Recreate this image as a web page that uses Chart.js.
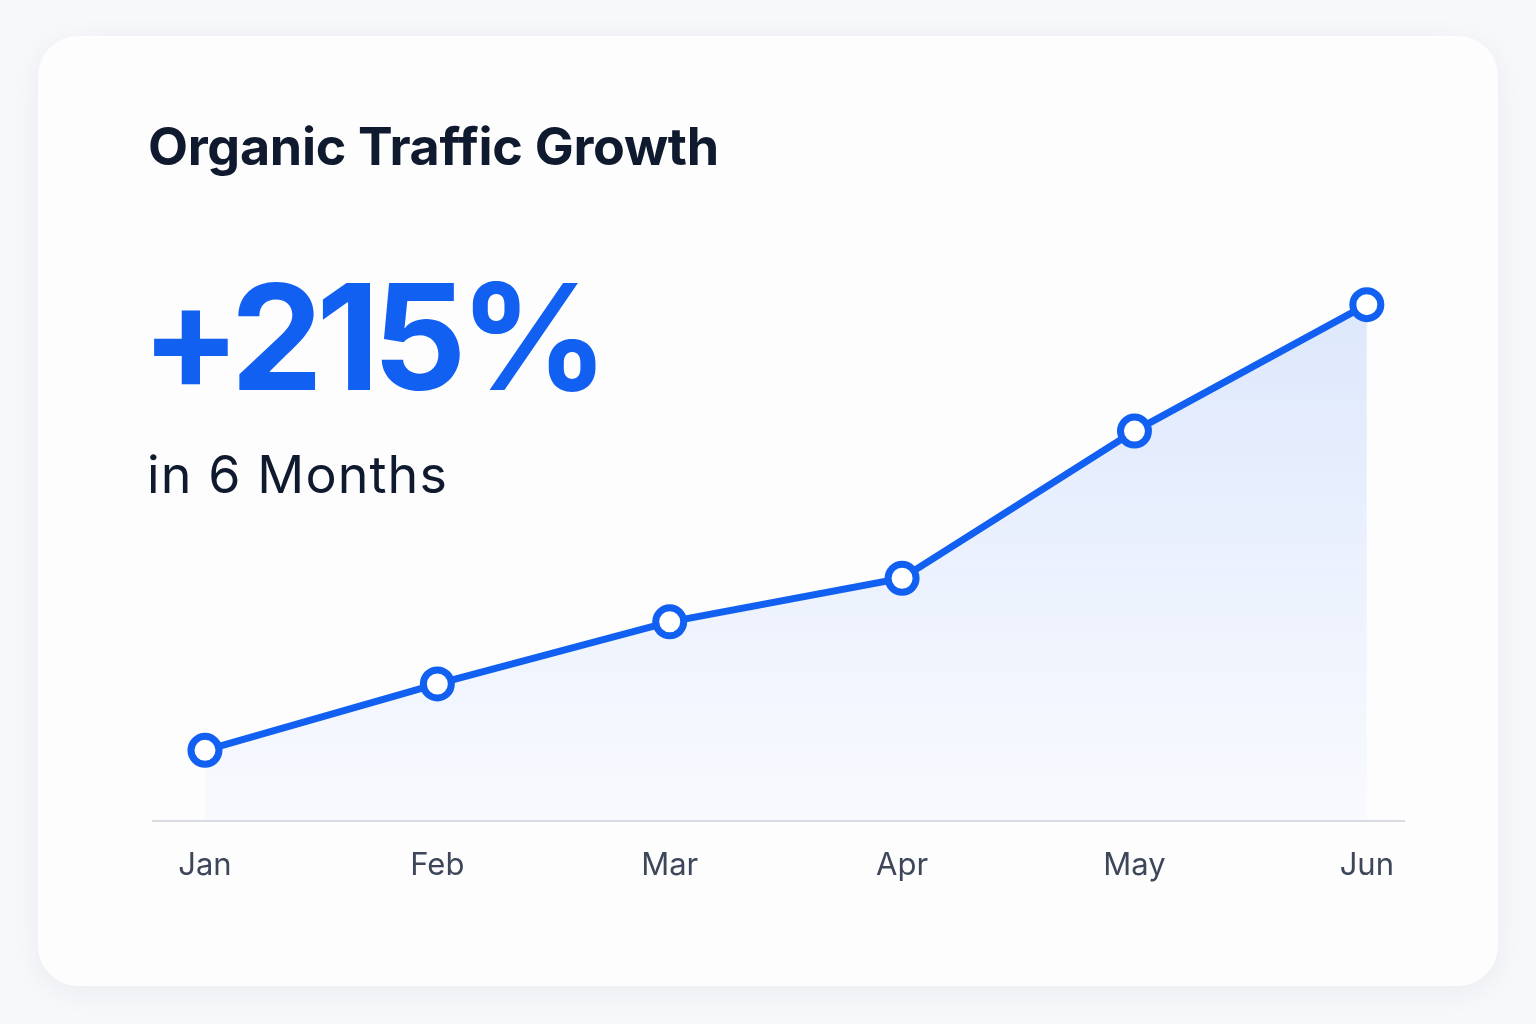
<!DOCTYPE html>
<html>
<head>
<meta charset="utf-8">
<script src="https://cdn.jsdelivr.net/npm/chart.js@4.4.1/dist/chart.umd.min.js"></script>
<style>
  html, body { margin: 0; padding: 0; }
  body {
    width: 1536px; height: 1024px;
    background: #f7f8fa;
    font-family: Inter, "Noto Sans", sans-serif;
    position: relative; overflow: hidden;
  }
  .card {
    position: absolute; left: 38px; top: 36px;
    width: 1460px; height: 950px;
    background: #fdfdfe;
    border-radius: 40px;
    box-shadow: 0 6px 30px rgba(30, 40, 70, 0.06);
  }
  .title {
    position: absolute; left: 148px; top: 121px;
    font-size: 52px; line-height: 1; font-weight: 700;
    color: #0f1a2e; letter-spacing: -0.3px;
  }
  .big {
    position: absolute; left: 141px; top: 263px;
    font-size: 147px; line-height: 1; font-weight: 700;
    color: #1160f2; letter-spacing: -7px;
  }
  .sub {
    position: absolute; left: 147px; top: 449px;
    font-size: 52px; line-height: 1; font-weight: 400;
    color: #0f1a2e; letter-spacing: 1.1px;
  }
  .chart-box {
    position: absolute; left: 152px; top: 230px;
    width: 1268px; height: 680px;
  }
</style>
</head>
<body>
<div class="card"></div>
<div class="title">Organic Traffic Growth</div>
<div class="big">+215%</div>
<div class="sub">in 6 Months</div>
<div class="chart-box"><canvas id="trafficChart"></canvas></div>

<script>
// traffic index, Jan = 100
const months = ['Jan', 'Feb', 'Mar', 'Apr', 'May', 'Jun'];
const traffic = [100, 132, 162, 183, 254, 315];

document.addEventListener("DOMContentLoaded", function() {
    const canvas = document.getElementById('trafficChart');
    const ctx = canvas.getContext('2d');

    const points = traffic.map(function(v, i) { return { x: i, y: v }; });

    new Chart(ctx, {
        type: 'line',
        data: {
            datasets: [{
                data: points,
                borderColor: '#1160f2',
                borderWidth: 7,
                tension: 0,
                fill: 'start',
                backgroundColor: function(context) {
                    const area = context.chart.chartArea;
                    if (!area) return 'rgba(17, 96, 242, 0.1)';
                    const g = context.chart.ctx.createLinearGradient(0, area.top, 0, area.bottom);
                    g.addColorStop(0, 'rgba(17, 96, 242, 0.15)');
                    g.addColorStop(1, 'rgba(17, 96, 242, 0.02)');
                    return g;
                },
                pointRadius: 14,
                pointBorderWidth: 7,
                pointBackgroundColor: '#ffffff',
                pointBorderColor: '#1160f2',
                clip: false
            }]
        },
        options: {
            responsive: true,
            maintainAspectRatio: false,
            animation: false,
            layout: { padding: 0, autoPadding: false },
            plugins: {
                legend: { display: false },
                tooltip: { enabled: false }
            },
            scales: {
                x: {
                    type: 'linear',
                    min: -0.228,
                    max: 5.164,
                    afterBuildTicks: function(axis) {
                        axis.ticks = months.map(function(m, i) { return { value: i }; });
                    },
                    ticks: {
                        padding: 26,
                        color: '#3d4759',
                        font: { family: 'Inter', size: 31 },
                        callback: function(value) { return months[value]; }
                    },
                    grid: { display: false, drawTicks: false },
                    border: { display: true, color: '#d9dce2', width: 2 }
                },
                y: {
                    display: false,
                    min: 66,
                    max: 351
                }
            }
        }
    });
});
</script>
</body>
</html>
